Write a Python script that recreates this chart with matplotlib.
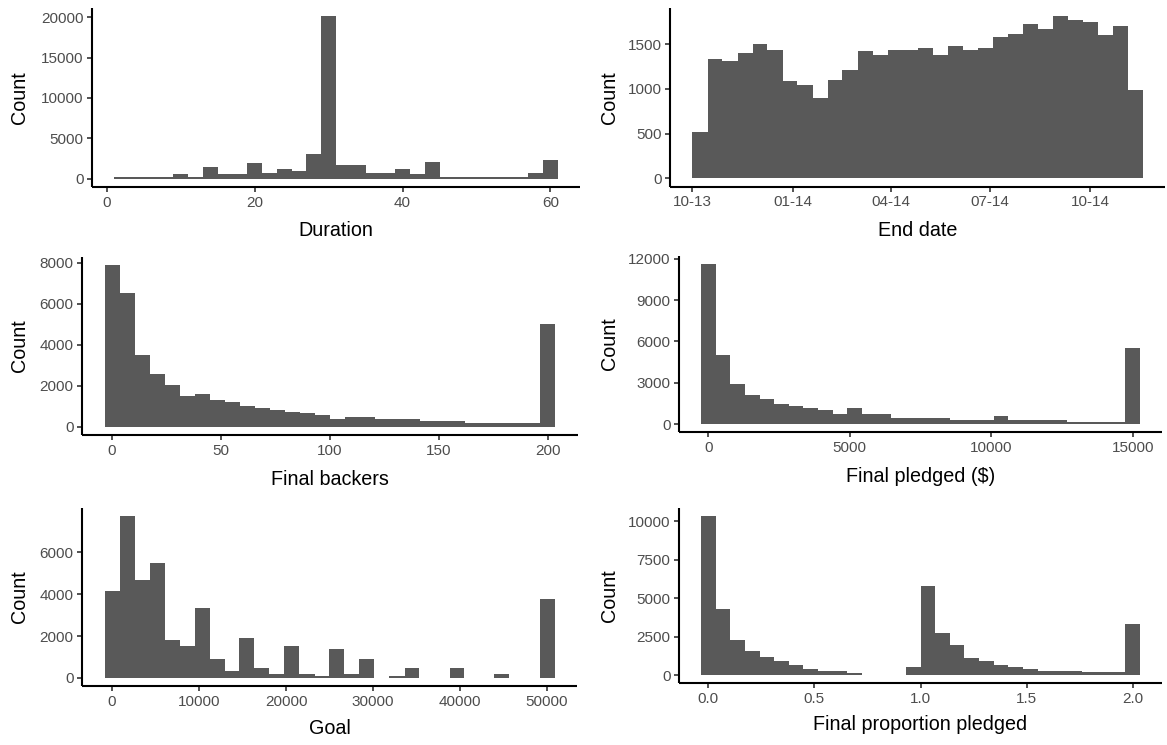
import matplotlib
matplotlib.use("Agg")
import matplotlib.pyplot as plt
import matplotlib.dates as mdates
import matplotlib.transforms as mtransforms
import numpy as np
import datetime as dt

plt.rcParams['font.family'] = ['Liberation Sans', 'DejaVu Sans']

# ---------------- data (30 bins per histogram, counts) ----------------
duration_centers = (2, 60)
duration_counts = [250, 250, 250, 250, 575, 250, 1480, 550, 550, 1930, 750, 1190, 985, 3080, 20120,
                   1680, 1680, 740, 740, 1190, 575, 2135, 250, 250, 250, 250, 250, 250, 780, 2380]
duration_xticks = [0, 20, 40, 60]
duration_yticks = [0, 5000, 10000, 15000, 20000]

enddate_centers = ("2013-10-08", "2014-11-11")
enddate_counts = [520, 1330, 1310, 1400, 1500, 1440, 1090, 1045, 900, 1105, 1215, 1420, 1380, 1435, 1435,
                  1460, 1380, 1485, 1440, 1460, 1580, 1610, 1730, 1670, 1815, 1775, 1750, 1605, 1710, 990]
enddate_xticks = ["2013-10-01", "2014-01-01", "2014-04-01", "2014-07-01", "2014-10-01"]
enddate_yticks = [0, 500, 1000, 1500]

backers_centers = (0, 200)
backers_counts = [7880, 6500, 3500, 2570, 2030, 1500, 1580, 1300, 1220, 1040, 945, 845, 750, 665, 585,
                  390, 490, 490, 390, 390, 390, 310, 310, 310, 210, 210, 210, 210, 210, 5020]
backers_xticks = [0, 50, 100, 150, 200]
backers_yticks = [0, 2000, 4000, 6000, 8000]

pledged_centers = (0, 15000)
pledged_counts = [11630, 5000, 2920, 2130, 1820, 1420, 1300, 1180, 1000, 760, 1150, 760, 760, 470, 470,
                  470, 470, 320, 320, 320, 610, 300, 300, 300, 300, 170, 170, 170, 170, 5520]
pledged_xticks = [0, 5000, 10000, 15000]
pledged_yticks = [0, 3000, 6000, 9000, 12000]

goal_centers = (0, 50000)
goal_counts = [4140, 7730, 4690, 5490, 1810, 1540, 3330, 900, 350, 1890, 450, 190, 1520, 190, 100,
               1360, 190, 900, 0, 100, 450, 0, 0, 450, 0, 0, 190, 0, 0, 3760]
goal_xticks = [0, 10000, 20000, 30000, 40000, 50000]
goal_yticks = [0, 2000, 4000, 6000]

prop_centers = (0.0, 2.0)
prop_counts = [10330, 4320, 2250, 1530, 1140, 900, 650, 420, 280, 280, 130, 0, 0, 0, 500,
               5790, 2730, 1920, 1110, 920, 660, 520, 400, 280, 280, 280, 175, 175, 175, 3340]
prop_xticks = [0.0, 0.5, 1.0, 1.5, 2.0]
prop_xticklabels = ["0.0", "0.5", "1.0", "1.5", "2.0"]
prop_yticks = [0, 2500, 5000, 7500, 10000]

xlabels = ["Duration", "End date", "Final backers", "Final pledged ($)", "Goal", "Final proportion pledged"]

# ---------------- layout ----------------
W, H = 1167, 745
fig = plt.figure(figsize=(W / 100, H / 100), dpi=100)
fig.patch.set_facecolor('white')

# pixel boxes: left, right, top, bottom
boxes = [
    (92, 580, 8, 187),
    (670, 1165, 8, 186.5),
    (82, 578, 257, 435),
    (679, 1162, 256, 432),
    (82, 577, 508, 686),
    (679, 1162, 508, 683),
]
ylab_x = [20, 609, 20, 609, 20, 609]
xlab_y = [230, 230, 480, 477, 728, 725]

BAR = '#595959'
TICKC = '#4D4D4D'
TICK_FS = 11
TITLE_FS = 14.2


def edges_from_centers(lo, hi, n):
    w = (hi - lo) / (n - 1)
    return np.linspace(lo - w / 2, hi + w / 2, n + 1)


def make_ax(i):
    l, r, t, b = boxes[i]
    ax = fig.add_axes([l / W, 1 - b / H, (r - l) / W, (b - t) / H])
    for s in ['top', 'right']:
        ax.spines[s].set_visible(False)
    for s in ['left', 'bottom']:
        ax.spines[s].set_linewidth(1.5)
        ax.spines[s].set_color('black')
        ax.spines[s].set_capstyle('butt')
    ax.tick_params(axis='both', length=3.6, width=1.2, color='#333333',
                   labelsize=TICK_FS, labelcolor=TICKC, pad=2.6)
    ax.set_facecolor('white')
    return ax


def hist_panel(i, edges, counts, xticks, yticks, xticklabels=None):
    ax = make_ax(i)
    counts = np.asarray(counts, dtype=float)
    ax.stairs(counts, edges, fill=True, color=BAR, linewidth=0)
    span = edges[-1] - edges[0]
    ax.set_xlim(edges[0] - 0.05 * span, edges[-1] + 0.05 * span)
    mx = counts.max()
    ax.set_ylim(-0.05 * mx, 1.05 * mx)
    ax.set_xticks(xticks)
    if xticklabels is None:
        xticklabels = [str(v) for v in xticks]
    ax.set_xticklabels(xticklabels)
    ax.set_yticks(yticks)
    ax.set_yticklabels([str(int(v)) for v in yticks])
    ax.set_ylabel("Count", fontsize=TITLE_FS, color='black')
    ax.set_xlabel(xlabels[i], fontsize=TITLE_FS, color='black')
    ax.yaxis.set_label_coords(ylab_x[i] / W, 0.5,
                              transform=mtransforms.blended_transform_factory(fig.transFigure, ax.transAxes))
    ax.yaxis.label.set_va('center')
    ax.xaxis.set_label_coords(0.5, 1 - xlab_y[i] / H,
                              transform=mtransforms.blended_transform_factory(ax.transAxes, fig.transFigure))
    ax.xaxis.label.set_va('center')
    return ax


# Duration
e = edges_from_centers(duration_centers[0], duration_centers[1], len(duration_counts))
hist_panel(0, e, duration_counts, duration_xticks, duration_yticks)

# End date
d0 = mdates.date2num(dt.datetime.strptime(enddate_centers[0], "%Y-%m-%d"))
d1 = mdates.date2num(dt.datetime.strptime(enddate_centers[1], "%Y-%m-%d"))
e = edges_from_centers(d0, d1, len(enddate_counts))
xt = [mdates.date2num(dt.datetime.strptime(s, "%Y-%m-%d")) for s in enddate_xticks]
xtl = [dt.datetime.strptime(s, "%Y-%m-%d").strftime("%m-%y") for s in enddate_xticks]
hist_panel(1, e, enddate_counts, xt, enddate_yticks, xtl)

# Final backers
e = edges_from_centers(backers_centers[0], backers_centers[1], len(backers_counts))
hist_panel(2, e, backers_counts, backers_xticks, backers_yticks)

# Final pledged
e = edges_from_centers(pledged_centers[0], pledged_centers[1], len(pledged_counts))
hist_panel(3, e, pledged_counts, pledged_xticks, pledged_yticks)

# Goal
e = edges_from_centers(goal_centers[0], goal_centers[1], len(goal_counts))
hist_panel(4, e, goal_counts, goal_xticks, goal_yticks)

# Final proportion pledged
e = edges_from_centers(prop_centers[0], prop_centers[1], len(prop_counts))
hist_panel(5, e, prop_counts, prop_xticks, prop_yticks, prop_xticklabels)

fig.savefig("out.png", dpi=100, facecolor='white')
